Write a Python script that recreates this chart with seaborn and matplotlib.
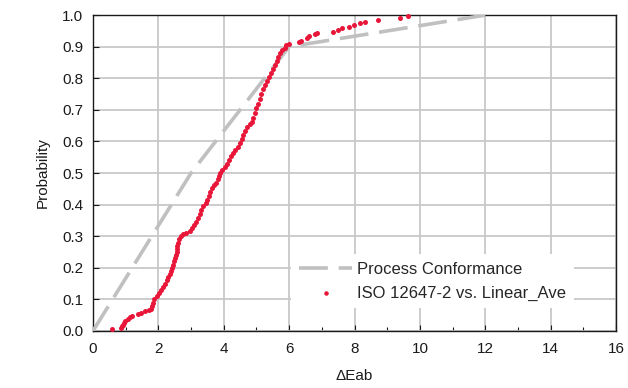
import matplotlib
matplotlib.use("Agg")
import matplotlib.pyplot as plt
import seaborn as sns
import pandas as pd
from matplotlib.ticker import MultipleLocator

# Process conformance reference curve
conf_x = [0, 3, 6, 12]
conf_p = [0.0, 0.5, 0.9, 1.0]

# ISO 12647-2 vs. Linear_Ave cumulative distribution
iso_x = [0.58, 0.86, 0.89, 0.92, 0.95, 0.99, 1.06, 1.12, 1.18, 1.38, 1.48, 1.60, 1.70, 1.77,
         1.80, 1.84, 1.88, 1.95, 2.02, 2.08, 2.14, 2.20, 2.25, 2.30, 2.35, 2.39, 2.43, 2.46,
         2.49, 2.52, 2.55, 2.57, 2.58, 2.58, 2.60, 2.63, 2.68, 2.76, 2.86, 2.96, 3.04, 3.10,
         3.16, 3.22, 3.27, 3.32, 3.38, 3.45, 3.50, 3.54, 3.58, 3.64, 3.70, 3.76, 3.82, 3.86,
         3.90, 3.95, 4.03, 4.10, 4.16, 4.22, 4.28, 4.36, 4.44, 4.50, 4.55, 4.60, 4.65, 4.72,
         4.80, 4.86, 4.90, 4.95, 5.00, 5.05, 5.10, 5.15, 5.20, 5.26, 5.33, 5.40, 5.46, 5.52,
         5.57, 5.62, 5.67, 5.72, 5.78, 5.86, 5.92, 6.00,
         6.29, 6.37, 6.55, 6.61, 6.80, 6.86, 7.34, 7.49, 7.61, 7.83, 7.98, 8.16, 8.33, 8.71,
         9.40, 9.65]
iso_p = [0.005, 0.010, 0.015, 0.020, 0.025, 0.030, 0.037, 0.043, 0.047, 0.053, 0.058, 0.062, 0.066, 0.070,
         0.080, 0.090, 0.100, 0.110, 0.120, 0.130, 0.140, 0.150, 0.160, 0.170, 0.180, 0.190, 0.200, 0.210,
         0.220, 0.230, 0.240, 0.250, 0.260, 0.270, 0.280, 0.290, 0.300, 0.306, 0.310, 0.315, 0.325, 0.335,
         0.345, 0.358, 0.370, 0.382, 0.395, 0.405, 0.415, 0.428, 0.440, 0.452, 0.462, 0.470, 0.480, 0.490,
         0.500, 0.510, 0.520, 0.530, 0.542, 0.553, 0.565, 0.572, 0.582, 0.595, 0.607, 0.620, 0.633, 0.645,
         0.655, 0.662, 0.675, 0.690, 0.705, 0.720, 0.735, 0.750, 0.765, 0.778, 0.790, 0.803, 0.817, 0.830,
         0.842, 0.855, 0.867, 0.880, 0.890, 0.897, 0.904, 0.910,
         0.914, 0.918, 0.927, 0.933, 0.939, 0.942, 0.946, 0.952, 0.958, 0.963, 0.968, 0.974, 0.979, 0.986,
         0.992, 0.998]

x_ticks = [0, 2, 4, 6, 8, 10, 12, 14, 16]
y_ticks = [0.0, 0.1, 0.2, 0.3, 0.4, 0.5, 0.6, 0.7, 0.8, 0.9, 1.0]

sns.set_theme(style="white")
plt.rcParams['font.family'] = ['Liberation Sans', 'DejaVu Sans']

fig = plt.figure(figsize=(6.28, 3.88), dpi=100)
ax = fig.add_axes([0.148, 0.147, 0.833, 0.814])

conf_df = pd.DataFrame({"x": conf_x, "p": conf_p})
iso_df = pd.DataFrame({"x": iso_x, "p": iso_p})

sns.lineplot(data=conf_df, x="x", y="p", ax=ax, color="#c0c0c0", linewidth=2.6,
             label="Process Conformance", zorder=3)
ax.lines[-1].set_dashes([8, 3])
sns.scatterplot(data=iso_df, x="x", y="p", ax=ax, color="#e8173a", s=13, linewidth=0,
                label="ISO 12647-2 vs. Linear_Ave", zorder=4, clip_on=False)

ax.set_xlim(0, 16)
ax.set_ylim(0, 1.0)
ax.set_xticks(x_ticks)
ax.set_yticks(y_ticks)
ax.set_xticklabels([str(v) for v in x_ticks])
ax.set_yticklabels([f"{v:.1f}" for v in y_ticks])
ax.xaxis.set_minor_locator(MultipleLocator(1))
ax.grid(True, which="major", color="#c8c8c8", linewidth=1.3, zorder=0)
ax.set_axisbelow(True)

for s in ax.spines.values():
    s.set_color("#1a1a1a")
    s.set_linewidth(1.0)

ax.tick_params(axis="both", which="major", direction="in", length=4, width=0.8,
               color="#1a1a1a", labelsize=11, labelcolor="#1a1a1a")
ax.tick_params(axis="x", which="major", pad=8)
ax.tick_params(axis="y", which="major", pad=7)
ax.tick_params(axis="x", which="minor", direction="in", length=3, width=0.8,
               color="#1a1a1a", bottom=True)
ax.tick_params(axis="x", which="both", bottom=True, top=False)
ax.tick_params(axis="y", which="both", left=True, right=False)

ax.set_xlabel("\u0394Eab", fontsize=11, color="#1a1a1a", labelpad=9)
ax.set_ylabel("Probability", fontsize=11, color="#1a1a1a", labelpad=9)

leg = ax.legend(loc="lower right", bbox_to_anchor=(0.935, 0.045), frameon=True,
                facecolor="white", edgecolor="none", framealpha=1.0, fancybox=False,
                fontsize=12, handlelength=3.2, labelspacing=0.55, borderpad=0.45,
                handletextpad=0.3, markerscale=0.9)
leg.set_zorder(5)

fig.savefig("out.png", dpi=100)
